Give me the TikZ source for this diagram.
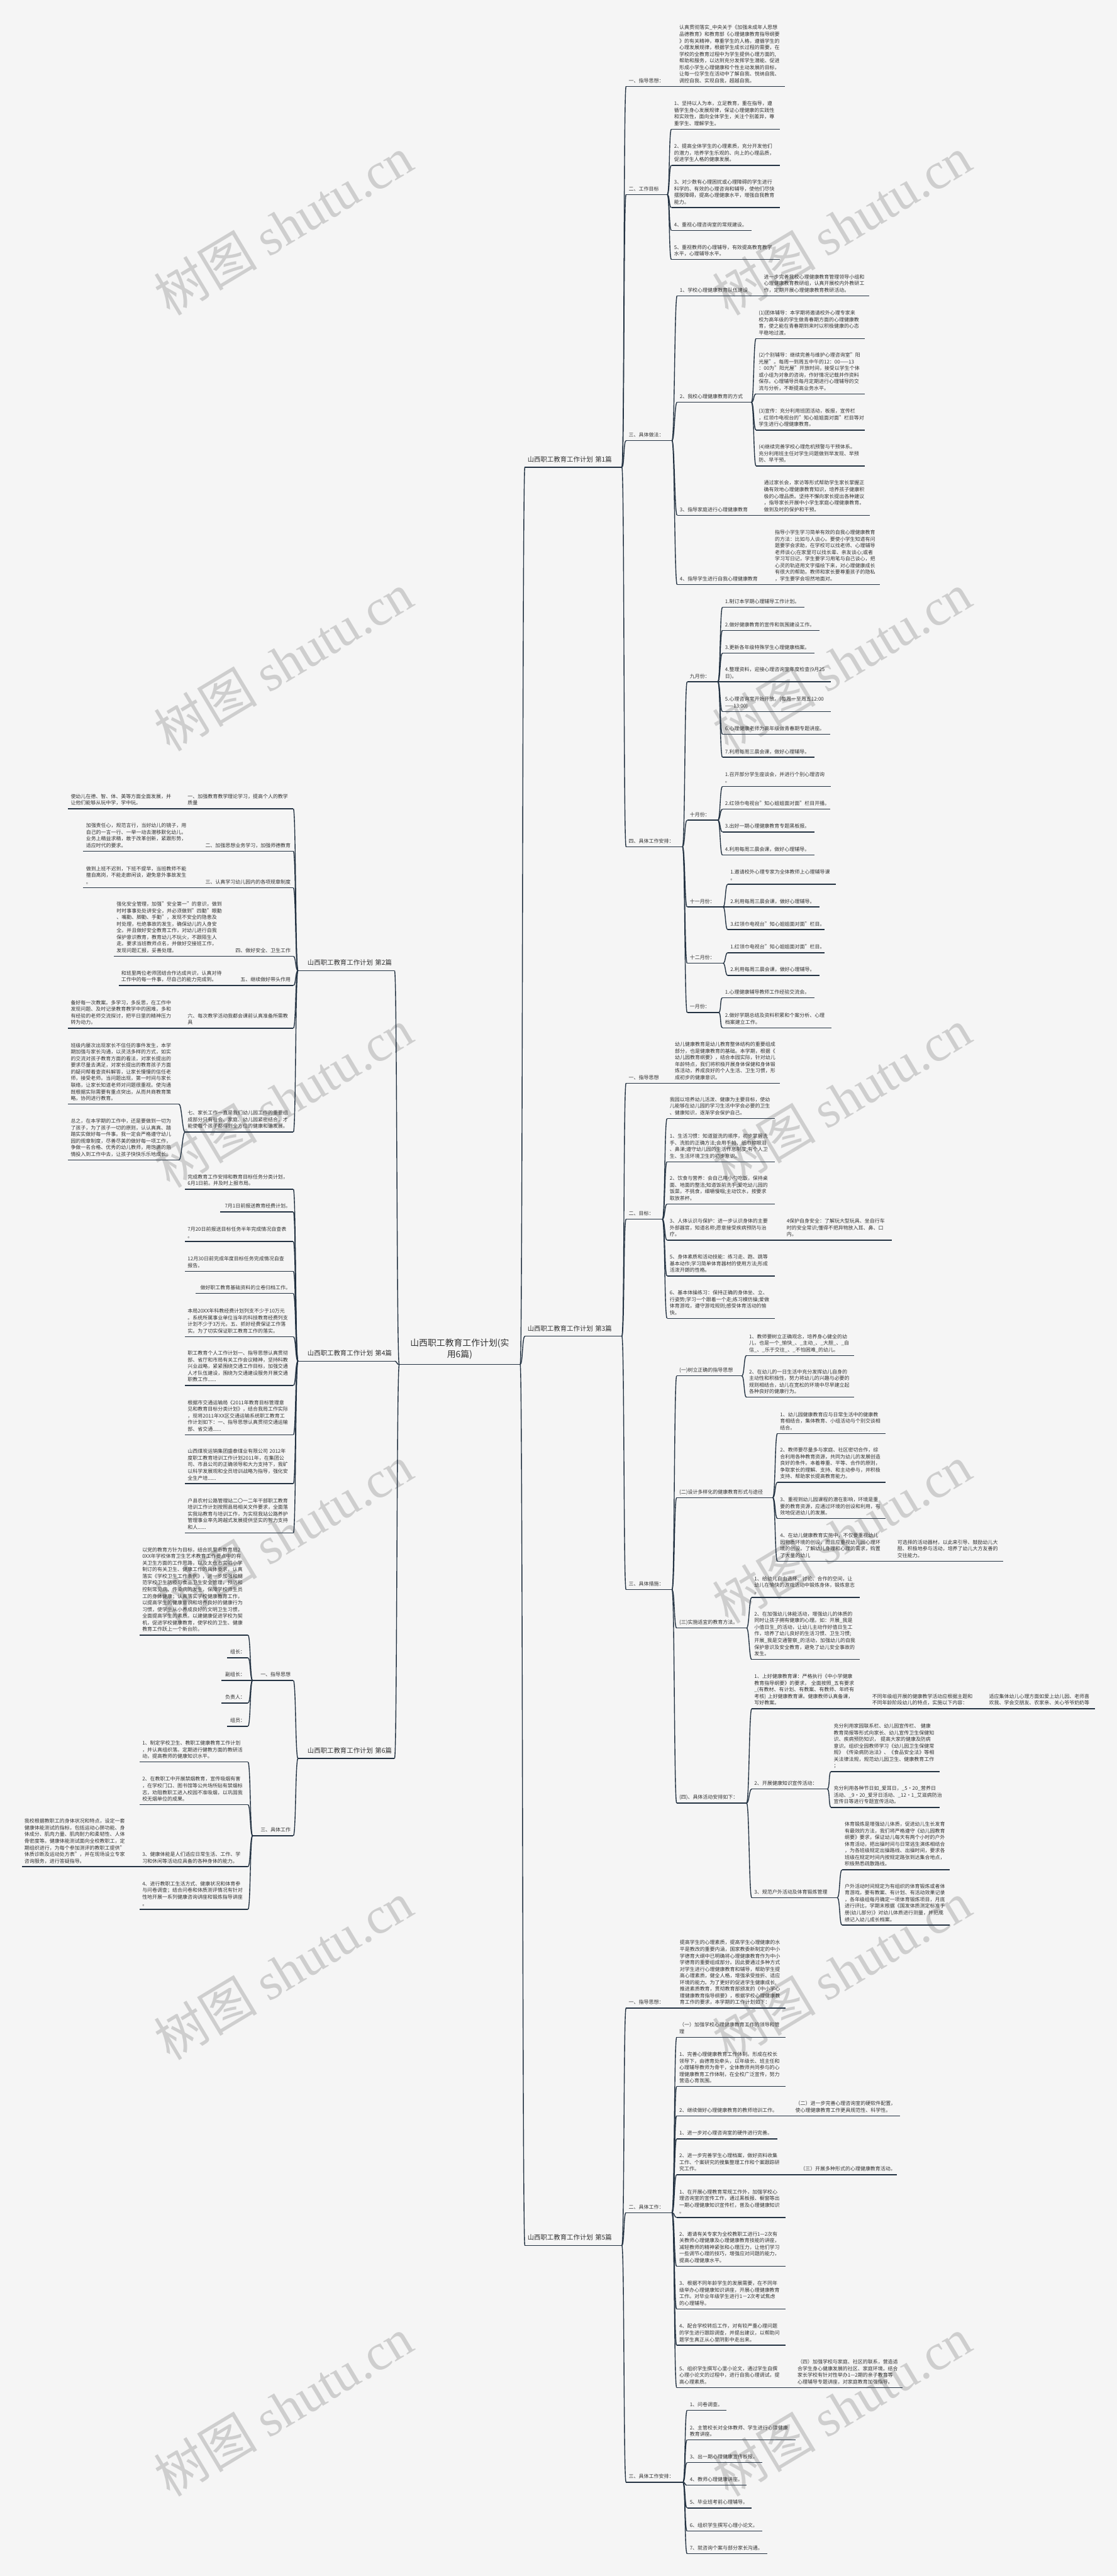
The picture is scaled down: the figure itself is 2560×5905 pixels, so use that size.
\documentclass[tikz,border=0pt]{standalone}
\usepackage{fontspec}
\setmainfont{Noto Sans CJK SC}
\newfontfamily\wmlatin{Liberation Serif}
\definecolor{bgc}{RGB}{245,245,245}
\definecolor{linec}{RGB}{35,50,66}
\definecolor{txtc}{RGB}{51,51,51}
\definecolor{wmc}{RGB}{206,206,206}

\tikzset{
  mmtext/.style={anchor=south west, inner xsep=6pt, inner ysep=4pt, align=left, text=txtc,
    font=\fontsize{11.5}{15.2}\selectfont, execute at end node=\strut},
  mmtextr/.style={mmtext, align=right},
  branch/.style={mmtext, inner ysep=6.9pt, font=\fontsize{15}{18}\selectfont},
  branchr/.style={branch, align=right},
  rootnode/.style={mmtext, align=center, inner ysep=7.4pt, font=\fontsize{20}{26.7}\selectfont},
  ul/.style={draw=linec, line width=2pt},
  edge/.style={draw=linec, line width=2pt},
  wm/.style={rotate=31, text=wmc, inner sep=0pt, font=\fontsize{118}{128}\selectfont}
}

% \mm[style]{name}{x left}{x right}{y of underline}{text}
\newcommand\mm[6][mmtext]{%
  \pgfmathsetlengthmacro\mmw{#4-#3-12}%
  \node[#1, text width=\mmw] (#2) at (#3,#5) {#6};
  \draw[ul] (#2.south west) -- (#2.south east);}
\newcommand\redges[2]{\foreach \ch in {#2} \draw[edge] (#1.south east) .. controls +(6,0) and +(-6,0) .. (\ch.south west);}
\newcommand\ledges[2]{\foreach \ch in {#2} \draw[edge] (#1.south west) .. controls +(-6,0) and +(6,0) .. (\ch.south east);}

\begin{document}
\begin{tikzpicture}[x=1pt,y=-1pt]
\fill[bgc] (0,0) rectangle (2560,5905);
\useasboundingbox (0,0) rectangle (2560,5905);
\foreach \k in {0,...,5}{
  \node[wm] (wml\k) at (650,{517+1000*\k}) {树图 {\wmlatin shutu.cn}};
  \node[wm] (wmr\k) at (1930,{517+1000*\k}) {树图 {\wmlatin shutu.cn}};
}

\mm[rootnode]{root}{915}{1192}{3128}{山西职工教育工作计划(实\\用6篇)}
\mm[branch]{b1}{1203}{1425}{1071}{山西职工教育工作计划 第1篇}
\mm[branch]{b3}{1203}{1425}{3063}{山西职工教育工作计划 第3篇}
\mm[branch]{b5}{1203}{1425}{5147}{山西职工教育工作计划 第5篇}
\mm[branchr]{b2}{683}{904}{2225}{山西职工教育工作计划 第2篇}
\mm[branchr]{b4}{683}{904}{3120}{山西职工教育工作计划 第4篇}
\mm[branchr]{b6}{683}{904}{4031}{山西职工教育工作计划 第6篇}

% 第1篇
\mm{n1a}{1435}{1551}{198}{一、指导思想：}
\mm{n1a1}{1551}{1799}{198}{认真贯彻落实\_中央关于《加强未成年人思想\\品德教育》和教育部《心理健康教育指导纲要\\》的有关精神，尊重学生的人格，遵循学生的\\心理发展规律，根据学生成长过程的需要，在\\学校的全教育过程中为学生提供心理方面的,\\帮助和服务，以达到充分发挥学生潜能、促进\\形成小学生心理健康和个性主动发展的目标，\\让每一位学生在活动中了解自我、悦纳自我、\\调控自我、实现自我，超越自我。}
\mm{n1b}{1435}{1529}{446}{二、工作目标}
\mm{n1b1}{1539}{1787}{296}{1、坚持以人为本，立足教育，重在指导，遵\\循学生身心发展规律，保证心理健康的实践性\\和实效性，面向全体学生，关注个别差异，尊\\重学生、理解学生。}
\mm{n1b2}{1539}{1787}{379}{2、提高全体学生的心理素质，充分开发他们\\的潜力，培养学生乐观的、向上的心理品质，\\促进学生人格的健康发展。}
\mm{n1b3}{1539}{1787}{476}{3、对少数有心理困扰或心理障碍的学生进行\\科学的、有效的心理咨询和辅导，使他们尽快\\摆脱障碍，提高心理健康水平，增强自我教育\\能力。}
\mm{n1b4}{1539}{1723}{528}{4、重视心理咨询室的常规建设。}
\mm{n1b5}{1539}{1787}{595}{5、重视教师的心理辅导，有效提高教育教学\\水平，心理辅导水平。}
\mm{n1c}{1435}{1540}{1010}{三、具体做法：}
\mm{n1c1}{1552}{1745}{678}{1、学校心理健康教育队伍建设}
\mm{n1c1a}{1745}{1992}{678}{进一步完善我校心理健康教育管理领导小组和\\心理健康教育教研组，认真开展校内外教研工\\作，定期开展心理健康教育教研活动。}
\mm{n1c2}{1552}{1722}{922}{2、我校心理健康教育的方式}
\mm{n1c2a}{1733}{1982}{776}{(1)团体辅导：本学期将邀请校外心理专家来\\校为高年级的学生做青春期方面的心理健康教\\育，使之能在青春期到来时以积极健康的心态\\平稳地过渡。}
\mm{n1c2b}{1733}{1982}{903}{(2)个别辅导：继续完善与维护心理咨询室"阳\\光屋"。每周一到周五中午的12：00——13\\：00为"阳光屋"开放时间，接受以学生个体\\或小组为对象的咨询，作好情况记载并作资料\\保存。心理辅导员每月定期进行心理辅导的交\\流与分析，不断提高业务水平。}
\mm{n1c2c}{1733}{1982}{986}{(3)宣传：充分利用班团活动，板报，宣传栏\\，红领巾电视台的"知心姐姐面对面"栏目等对\\学生进行心理健康教育。}
\mm{n1c2d}{1733}{1982}{1068}{(4)继续完善学校心理危机预警与干预体系。\\充分利用班主任对学生问题做到早发现、早预\\防、早干预。}
\mm{n1c3}{1552}{1745}{1181}{3、指导家庭进行心理健康教育}
\mm{n1c3a}{1745}{1993}{1181}{通过家长会，家访等形式帮助学生家长掌握正\\确有效地心理健康教育知识，培养孩子健康积\\极的心理品质。坚持不懈向家长提出各种建议\\，指导家长开展中小学生家庭心理健康教育。\\做到及时的保护和干预。}
\mm{n1c4}{1552}{1770}{1340}{4、指导学生进行自我心理健康教育}
\mm{n1c4a}{1770}{2017}{1340}{指导小学生学习简单有效的自我心理健康教育\\的方法：比如与人谈心。要使小学生知道有问\\题要学会求助，在学校可以找老师、心理辅导\\老师谈心;在家里可以找长辈、亲友谈心;或者\\学习写日记，学生要学习用笔与自己谈心，把\\心灵的轨迹用文字描绘下来，对心理健康成长\\有很大的帮助。教师和家长要尊重孩子的隐私\\，学生要学会坦然地面对。}
\mm{n1d}{1435}{1564}{1941}{四、具体工作安排：}
\mm{n1d1}{1575}{1645}{1563}{九月份：}
\mm{s1}{1656}{1843}{1392}{1.制订本学期心理辅导工作计划。}
\mm{s2}{1656}{1878}{1445}{2.做好健康教育的宣传和氛围建设工作。}
\mm{s3}{1656}{1867}{1497}{3.更新各年级特殊学生心理健康档案。}
\mm{s4}{1656}{1904}{1563}{4.整理资料，迎接心理咨询室年度检查(9月25\\日)。}
\mm{s5}{1656}{1904}{1631}{5.心理咨询室开始开放。(每周一至周五12:00\\——13:00)}
\mm{s6}{1656}{1902}{1683}{6.心理健康老师为高年级做青春期专题讲座。}
\mm{s7}{1656}{1867}{1736}{7.利用每周三晨会课，做好心理辅导。}
\mm{n1d2}{1575}{1645}{1880}{十月份：}
\mm{o1}{1656}{1904}{1803}{1.召开部分学生座谈会，并进行个别心理咨询\\。}
\mm{o2}{1656}{1902}{1855}{2.红领巾电视台"知心姐姐面对面"栏目开播。}
\mm{o3}{1656}{1867}{1907}{3.出好一期心理健康教育专题黑板报。}
\mm{o4}{1656}{1867}{1960}{4.利用每周三晨会课，做好心理辅导。}
\mm{n1d3}{1575}{1657}{2079}{十一月份：}
\mm{v1}{1668}{1916}{2027}{1.邀请校外心理专家为全体教师上心理辅导课\\。}
\mm{v2}{1668}{1878}{2079}{2.利用每周三晨会课，做好心理辅导。}
\mm{v3}{1668}{1889}{2131}{3.红领巾电视台"知心姐姐面对面"栏目。}
\mm{n1d4}{1575}{1657}{2208}{十二月份：}
\mm{w1}{1668}{1889}{2184}{1.红领巾电视台"知心姐姐面对面"栏目。}
\mm{w2}{1668}{1878}{2236}{2.利用每周三晨会课，做好心理辅导。}
\mm{n1d5}{1575}{1647}{2321}{一月份：}
\mm{z1}{1656}{1867}{2287}{1.心理健康辅导教师工作经验交流会。}
\mm{z2}{1656}{1905}{2356}{2.做好学期总结及资料积累和个案分析、心理\\档案建立工作。}

% 第3篇
\mm{n3a}{1435}{1541}{2483}{一、指导思想}
\mm{n3a1}{1541}{1787}{2483}{幼儿健康教育是幼儿教育整体结构的重要组成\\部分，也是健康教育的基础。本学期，根据《\\幼儿园教育纲要》，结合本园实际，针对幼儿\\年龄特点，我们将积极开展身体保健和身体锻\\炼活动，养成良好的个人生活、卫生习惯，形\\成初步的健康意识。}
\mm{n3b}{1435}{1518}{2795}{二、目标：}
\mm{t1}{1529}{1776}{2564}{我园以培养幼儿活泼、健康为主要目标，使幼\\儿能够在幼儿园的学习生活中学会必要的卫生\\、健康知识，逐渐学会保护自己。}
\mm{t2}{1529}{1776}{2663}{1、生活习惯：知道盥洗的顺序，初步掌握洗\\手、洗脸的正确方法;会用手帕、纸巾擦眼泪\\、鼻涕;遵守幼儿园的生活作息制度;有个人卫\\生、生活环境卫生的初步意识。}
\mm{t3}{1529}{1776}{2760}{2、饮食与营养：会自己用小勺吃饭，保持桌\\面、地面的整洁;知道饭前洗手;爱吃幼儿园的\\饭菜，不挑食，细嚼慢咽;主动饮水，按要求\\取放茶杯。}
\mm{t4}{1529}{1797}{2843}{3、人体认识与保护：进一步认识身体的主要\\外部器官，知道名称;愿意接受疾病预防与治\\疗。}
\mm{t4a}{1797}{2044}{2843}{4保护自身安全：了解玩大型玩具、坐自行车\\时的安全常识;懂得不把异物放入耳、鼻、口\\内。}
\mm{t5}{1529}{1776}{2925}{5、身体素质和活动技能：练习走、跑、跳等\\基本动作;学习简单体育器材的使用方法;形成\\活泼开朗的性格。}
\mm{t6}{1529}{1776}{3022}{6、基本体操练习：保持正确的身体坐、立、\\行姿势;学习一个跟着一个走;练习模仿操;爱做\\体育游戏，遵守游戏规则;感受体育活动的愉\\快。}
\mm{n3c}{1435}{1540}{3644}{三、具体措施：}
\mm{c1}{1551}{1700}{3154}{(一)树立正确的指导思想}
\mm{c1a}{1711}{1958}{3107}{1、教师要树立正确观念，培养身心健全的幼\\儿，也是一个\_愉快\_、\_主动\_、\_大胆\_、\_自\\信\_、\_乐于交往\_、\_不怕困难\_的幼儿。}
\mm{c1b}{1711}{1958}{3203}{2、在幼儿的一日生活中充分发挥幼儿自身的\\主动性和积极性，努力将幼儿的兴趣与必要的\\规则相结合，幼儿在宽松的环境中尽早建立起\\各种良好的健康行为。}
\mm{c2}{1551}{1771}{3433}{(二)设计多样化的健康教育形式与途径}
\mm{c2a}{1782}{2030}{3286}{1、幼儿园健康教育应与日常生活中的健康教\\育相结合，集体教育、小组活动与个别交谈相\\结合。}
\mm{c2b}{1782}{2030}{3398}{2、教师要尽量多与家庭、社区密切合作，综\\合利用各种教育资源，共同为幼儿的发展创造\\良好的条件。本着尊重、平等、合作的原则，\\争取家长的理解、支持、和主动参与，并积极\\支持、帮助家长提高教育能力。}
\mm{c2c}{1782}{2030}{3481}{3、重视到幼儿园课程的潜在影响，环境是重\\要的教育资源，应通过环境的创设和利用，有\\效地促进幼儿的发展。}
\mm{c2d}{1782}{2051}{3579}{4、在幼儿健康教育实施中，不仅要重视幼儿\\园物质环境的创设，而且应重视幼儿园心理环\\境的创设。了解幼儿身理和心理的需求，购置\\了大量的幼儿}
\mm{c2d1}{2051}{2299}{3579}{可选择的活动器材，以此来引导、鼓励幼儿大\\胆、积极地参与活动，培养了幼儿大方友善的\\交往能力。}
\mm{c3}{1551}{1711}{3732}{(三)实施适宜的教育方法。}
\mm{c3a}{1723}{1971}{3662}{1、给幼儿自由选择、讨论、合作的空间，让\\幼儿在愉快的游戏活动中锻炼身体，锻炼意志\\。}
\mm{c3b}{1723}{1971}{3804}{2、在加强幼儿体能活动，增强幼儿的体质的\\同时让孩子拥有健康的心理。如：开展\_我是\\小值日生\_的活动，让幼儿主动作好值日生工\\作，培养了幼儿良好的生活习惯、卫生习惯;\\开展\_我是交通警察\_的活动，加强幼儿的自我\\保护意识及安全教育，避免了幼儿安全事故的\\发生。}
\mm{c4}{1551}{1711}{4133}{(四)、具体活动安排如下：}
\mm{c4a}{1723}{1993}{3917}{1、上好健康教育课：严格执行《中小学健康\\教育指导纲要》的要求， 全面按照\_五有要求\\\_(有教材、有计划、有教案、有教师、年终有\\考核) 上好健康教育课。健康教师认真备课，\\写好教案。}
\mm{c4a1}{1993}{2261}{3917}{不同年级组开展的健康教学活动应根据主题和\\不同年龄阶段幼儿的特点，实施以下内容：}
\mm{c4a2}{2261}{2509}{3917}{适应集体幼儿心理方面如爱上幼儿园、老师喜\\欢我、学会交朋友、农家亲、关心爷爷奶奶等}
\mm{c4b}{1723}{1896}{4101}{2、开展健康知识宣传活动：}
\mm{c4b1}{1905}{2153}{4061}{充分利用家园联系栏、幼儿园宣传栏、 健康\\教育简报等形式向家长、幼儿宣传卫生保健知\\识、疾病预防知识， 提高大家的健康及防病\\意识。组织全园教师学习《幼儿园卫生保健常\\规》《传染病防治法》、《食品安全法》等相\\关法律法规，规范幼儿园卫生、健康教育工作\\；}
\mm{c4b2}{1905}{2153}{4143}{充分利用各种节日如\_爱耳日，\_5·20\_营养日\\活动、\_9·20\_爱牙日活动、\_12·1\_艾滋病防治\\宣传日等进行专题宣传活动。}
\mm{c4c}{1723}{1919}{4350}{3、规范户外活动及体育锻炼管理}
\mm{c4c1}{1930}{2176}{4286}{体育锻炼是增强幼儿体质，促进幼儿生长发育\\有最效的方法，我们将严格遵守《幼儿园教育\\纲要》要求，保证幼儿每天有两个小时的户外\\体育活动，把出操时间与日常逃生演练相结合\\，为各班级规定出操路线、出操时间，要求各\\班级在规定时间内按规定路张到达集合地点，\\积极熟悉疏散路线。}
\mm{c4c2}{1930}{2176}{4413}{户外活动时间规定为有组织的体育锻炼或者体\\育游戏，要有教案、有计划、有活动效果记录\\，各年级组每月确定一项体育锻炼项目，月底\\进行评比，学期末根据《国发体质测定标准手\\册(幼儿部分)》对幼儿体质进行测量，并把成\\绩记入幼儿成长档案。}

% 第5篇
\mm{n5a}{1435}{1552}{4603}{一、指导思想：}
\mm{n5a1}{1552}{1800}{4603}{提高学生的心理素质，提高学生心理健康的水\\平是教改的重要内涵，国家教委新制定的中小\\学德育大纲中已明确将心理健康教育作为中小\\学德育的重要组成部分。因此要通过多种方式\\对学生进行心理健康教育和辅导，帮助学生提\\高心理素质，健全人格，增强承受挫折、适应\\环境的能力。为了更好的促进学生健康成长,\\推进素质教育，贯彻教育部颁发的《中小学心\\理健康教育指导纲要》，根据学校心理健康教\\育工作的要求，本学期的工作计划如下：}
\mm{n5b}{1435}{1540}{5072}{二、具体工作：}
\mm{f1}{1551}{1800}{4670}{（一）加强学校心理健康教育工作的领导和管\\理}
\mm{f2}{1551}{1800}{4783}{1、完善心理健康教育工作体制。形成在校长\\领导下，由德育处牵头，以年级长、班主任和\\心理辅导教师为骨干，全体教师共同参与的心\\理健康教育工作体制，在全校广泛宣传，努力\\营造心育氛围。}
\mm{f3}{1551}{1817}{4850}{2、继续做好心理健康教育的教师培训工作。}
\mm{f3a}{1817}{2062}{4850}{（二）进一步完善心理咨询室的硬软件配置，\\使心理健康教育工作更具规范性、科学性。}
\mm{f4}{1551}{1782}{4903}{1、进一步对心理咨询室的硬件进行完善。}
\mm{f5}{1551}{1828}{4985}{2、进一步完善学生心理档案，做好资料收集\\工作、个案研究的搜集整理工作和个案跟踪研\\究工作。}
\mm{f5a}{1828}{2056}{4985}{（三）开展多种形式的心理健康教育活动。}
\mm{f6}{1551}{1800}{5083}{1、在开展心理教育常规工作外，加强学校心\\理咨询室的宣传工作，通过黑板报、橱窗等出\\一期心理健康知识宣传栏，普及心理健康知识\\。}
\mm{f7}{1551}{1800}{5195}{2、邀请有关专家为全校教职工进行1—2次有\\关教师心理健康及心理健康教育技能的讲座，\\减轻教师的精神紧张和心理压力，让他们学习\\一些调节心理的技巧，增强应对问题的能力，\\提高心理健康水平。}
\mm{f8}{1551}{1800}{5293}{3、根据不同年龄学生的发展需要，在不同年\\级举办心理健康知识讲座，开展心理健康教育\\工作。对毕业年级学生进行1－2次考试焦虑\\的心理辅导。}
\mm{f9}{1551}{1800}{5376}{4、配合学校转后工作，对有较严重心理问题\\的学生进行跟踪调查，并提出建议，以帮助问\\题学生真正从心里阴影中走出来。}
\mm{f10}{1551}{1822}{5473}{5、组织学生撰写心里小论文，通过学生自撰\\心理小论文的过程中，进行自我心理调试，提\\高心理素质。}
\mm{f10a}{1822}{2069}{5473}{（四）加强学校与家庭、社区的联系，营造适\\合学生身心健康发展的社区、家庭环境。结合\\家长学校有针对性举办1—2期的亲子教育等\\心理辅导专题讲座，对家庭教育加强指导。}
\mm{n5c}{1435}{1565}{5690}{三、具体工作安排：}
\mm{g1}{1575}{1665}{5525}{1、问卷调查。}
\mm{g2}{1575}{1823}{5593}{2、主管校长对全体教师、学生进行心理健康\\教育讲座。}
\mm{g3}{1575}{1747}{5645}{3、出一期心理健康宣传板报。}
\mm{g4}{1575}{1711}{5697}{4、教师心理健康讲座。}
\mm{g5}{1575}{1723}{5749}{5、毕业班考前心理辅导。}
\mm{g6}{1575}{1747}{5802}{6、组织学生撰写心理小论文。}
\mm{g7}{1575}{1759}{5854}{7、就咨询个案与部分家长沟通。}

% 第2篇
\mm{l1}{424}{672}{1854}{一、加强教育教学理论学习，提高个人的教学\\质量}
\mm{l1a}{156}{424}{1854}{使幼儿在德、智、体、美等方面全面发展，并\\让他们能够从玩中学，学中玩。}
\mm[mmtextr]{l2}{460}{672}{1951}{二、加强思想业务学习，加强师德教育}
\mm{l2a}{191}{460}{1951}{加强责任心，规范言行，当好幼儿的镜子，用\\自己的一言一行、一举一动去潜移默化幼儿。\\业务上精益求精，敢于改革创新，紧跟形势，\\适应时代的要求。}
\mm[mmtextr]{l3}{460}{672}{2035}{三、认真学习幼儿园内的各项规章制度}
\mm{l3a}{191}{460}{2035}{做到上班不迟到，下班不提早，当班教师不能\\擅自离岗，不能走廊闲谈，避免意外事故发生\\。}
\mm[mmtextr]{l4}{530}{672}{2192}{四、做好安全、卫生工作}
\mm{l4a}{261}{530}{2192}{强化安全管理，加强"安全第一"的意识，做到\\时时事事处处讲安全，并必须做到"四勤"眼勤\\、嘴勤、脚勤、手勤"，发现不安全的隐患及\\时处理，杜绝事故的发生，确保幼儿的人身安\\全。并且做好安全教育工作，对幼儿进行自我\\保护意识教育，教育幼儿不玩火，不跟陌生人\\走。要求当班教师点名，并做好交接班工作，\\发现问题汇报，妥善处理。}
\mm[mmtextr]{l5}{542}{672}{2259}{五、继续做好带头作用}
\mm{l5a}{272}{542}{2259}{和班里两位老师团结合作达成共识，认真对待\\工作中的每一件事，尽自己的能力完成到。}
\mm{l6}{424}{672}{2357}{六、每次教学活动我都会课前认真准备所需教\\具}
\mm{l6a}{156}{424}{2357}{备好每一次教案。多学习，多反思，在工作中\\发现问题、及时记录教育教学中的困难，多和\\有经验的老师交流探讨，把平日里的精神压力\\转为动力。}
\mm{l7}{424}{672}{2595}{七、家长工作一直是我们幼儿园工作的重要组\\成部分只有社会、家庭、幼儿园紧密结合，才\\能使每个孩子都得到全方位的健康和谐发展。}
\mm{l7a}{156}{410}{2531}{班级内屡次出现家长不信任的事件发生，本学\\期加强与家长沟通，以灵活多样的方式，如实\\的交流对孩子教育方面的看法，对家长提出的\\要求尽量去满足，对家长提出的教育孩子方面\\的疑问帮着查资料解答，让家长慢慢的信任老\\师，接受老师。当问题出现，第一时间与家长\\联络，让家长知道老师对问题很重视。使沟通\\既根据实际需要有重点突出，从而共商教育策\\略，协同进行教育。}
\mm{l7b}{156}{410}{2659}{总之，在本学期的工作中，还是要做到一切为\\了孩子，为了孩子一切的原则，认认真真、踏\\踏实实做好每一件事。我一定会严格遵守幼儿\\园的规章制度，尽善尽美的做好每一项工作，\\争做一名合格、优秀的幼儿教师，用饱满的热\\情投入到工作中去，让孩子快快乐乐地成长。}

% 第4篇
\mm{r1}{424}{672}{2726}{完成教育工作安排和教育目标任务分类计划，\\6月1日前。并及时上报市局。}
\mm[mmtextr]{r2}{505}{672}{2778}{7月1日前报送教育经费计划。}
\mm{r3}{424}{672}{2846}{7月20日前报送目标任务半年完成情况自查表\\。}
\mm{r4}{424}{672}{2914}{12月30日前完成年度目标任务完成情况自查\\报告。}
\mm[mmtextr]{r5}{448}{672}{2965}{做好职工教育基础资料的立卷归档工作。}
\mm{r6}{424}{672}{3064}{本局20XX年科教经费计划列支不少于10万元\\。系统所属事业单位当年的科技教育经费列支\\计划不少于3万元。五、抓好经费保证工作落\\实。为了切实保证职工教育工作的落实。}
\mm{r7}{424}{672}{3176}{职工教育个人工作计划一、指导思想认真贯彻\\部、省厅和市局有关工作会议精神，坚持科教\\兴业战略，紧紧围绕交通工作目标，加强交通\\人才队伍建设，围绕为交通建设服务开展交通\\职教工作......}
\mm{r8}{424}{672}{3289}{根据市交通运输局《2011年教育目标管理意\\见和教育目标分类计划》，结合我局工作实际\\，现将2011年XX区交通运输系统职工教育工\\作计划如下：一、指导思想认真贯彻交通运输\\部、省交通......}
\mm{r9}{424}{672}{3401}{山西煤炭运销集团盛泰煤业有限公司 2012年\\度职工教育培训工作计划2011年，在集团公\\司、市县公司的正确领导和大力支持下，我矿\\以科学发展观和全员培训战略为指导，强化安\\全生产培......}
\mm{r10}{424}{672}{3514}{户县农村公路管理站二〇一二年干部职工教育\\培训工作计划按照县局相关文件要求，全面落\\实我站教育与培训工作，为实现我站公路养护\\管理事业率先跨越式发展提供坚实的智力支持\\和人......}

% 第6篇
\mm[mmtextr]{q1}{579}{672}{3852}{一、指导思想}
\mm{q1a}{320}{568}{3748}{以党的教育方针为目标，结合凯里市教育局2\\0XX年学校体育卫生艺术教育工作要点中的有\\关卫生方面的工作思路，以及太仓市实验小学\\制订的有关卫生、健康工作的具体要求，认真\\落实《学校卫生工作条例》，进一步加强和规\\范学校卫生防疫与食品卫生安全管理，预防和\\控制常见病、传染病的发生，保障学校师生员\\工的身体健康；认真落实学校健康教育工作，\\以提高学生的健康意识和培养良好的健康行为\\习惯，使学生从小养成良好的文明卫生习惯，\\全面提高学生的素质。以建健康促进学校为契\\机，促进学校健康教育，使学校的卫生、健康\\教育工作跃上一个新台阶。}
\mm[mmtextr]{q1b}{521}{568}{3800}{组长：}
\mm[mmtextr]{q1c}{508}{568}{3852}{副组长：}
\mm[mmtextr]{q1d}{508}{568}{3904}{负责人：}
\mm[mmtextr]{q1e}{521}{568}{3957}{组员：}
\mm[mmtextr]{q2}{579}{672}{4208}{三、具体工作}
\mm{q2a}{320}{568}{4039}{1、制定学校卫生、教职工健康教育工作计划\\，并认真组织落。定期进行健教方面的教研活\\动，提高教师的健康知识水平。}
\mm{q2b}{320}{568}{4137}{2、在教职工中开展禁烟教育，宣传吸烟有害\\，在学校门口、图书馆等公共场所贴有禁烟标\\志，劝阻教职工进入校园不准吸烟，以巩固我\\校无烟单位的成果。}
\mm{q2c}{320}{568}{4279}{3、健康体能是人们适应日常生活、工作、学\\习和休闲等活动应具备的各种身体的能力。}
\mm{q2c1}{50}{320}{4279}{我校根据教职工的身体状况和特点，设定一套\\健康体能测试的指标，包括运动心肺功能、身\\体成分、肌肉力量、肌肉耐力和柔韧性、人体\\骨密度等。健康体能测试面向全校教职工，定\\期组织进行，为每个参加测评的教职工提供"\\体质诊断及运动处方表"，并在现场设立专家\\咨询服务，进行答疑指导。}
\mm{q2d}{320}{568}{4377}{4、进行教职工生活方式、健康状况和体育参\\与问卷调查；结合问卷和体质测评情况有针对\\性地开展一系列健康咨询讲座和锻炼指导讲座\\。}

% connectors
\redges{root}{b1,b3,b5}
\ledges{root}{b2,b4,b6}
\redges{b1}{n1a,n1b,n1c,n1d}
\redges{n1a}{n1a1}
\redges{n1b}{n1b1,n1b2,n1b3,n1b4,n1b5}
\redges{n1c}{n1c1,n1c2,n1c3,n1c4}
\redges{n1c1}{n1c1a}
\redges{n1c2}{n1c2a,n1c2b,n1c2c,n1c2d}
\redges{n1c3}{n1c3a}
\redges{n1c4}{n1c4a}
\redges{n1d}{n1d1,n1d2,n1d3,n1d4,n1d5}
\redges{n1d1}{s1,s2,s3,s4,s5,s6,s7}
\redges{n1d2}{o1,o2,o3,o4}
\redges{n1d3}{v1,v2,v3}
\redges{n1d4}{w1,w2}
\redges{n1d5}{z1,z2}
\redges{b3}{n3a,n3b,n3c}
\redges{n3a}{n3a1}
\redges{n3b}{t1,t2,t3,t4,t5,t6}
\redges{t4}{t4a}
\redges{n3c}{c1,c2,c3,c4}
\redges{c1}{c1a,c1b}
\redges{c2}{c2a,c2b,c2c,c2d}
\redges{c2d}{c2d1}
\redges{c3}{c3a,c3b}
\redges{c4}{c4a,c4b,c4c}
\redges{c4a}{c4a1}
\redges{c4a1}{c4a2}
\redges{c4b}{c4b1,c4b2}
\redges{c4c}{c4c1,c4c2}
\redges{b5}{n5a,n5b,n5c}
\redges{n5a}{n5a1}
\redges{n5b}{f1,f2,f3,f4,f5,f6,f7,f8,f9,f10}
\redges{f3}{f3a}
\redges{f5}{f5a}
\redges{f10}{f10a}
\redges{n5c}{g1,g2,g3,g4,g5,g6,g7}
\ledges{b2}{l1,l2,l3,l4,l5,l6,l7}
\ledges{l1}{l1a}
\ledges{l2}{l2a}
\ledges{l3}{l3a}
\ledges{l4}{l4a}
\ledges{l5}{l5a}
\ledges{l6}{l6a}
\ledges{l7}{l7a,l7b}
\ledges{b4}{r1,r2,r3,r4,r5,r6,r7,r8,r9,r10}
\ledges{b6}{q1,q2}
\ledges{q1}{q1a,q1b,q1c,q1d,q1e}
\ledges{q2}{q2a,q2b,q2c,q2d}
\ledges{q2c}{q2c1}
\end{tikzpicture}
\end{document}
